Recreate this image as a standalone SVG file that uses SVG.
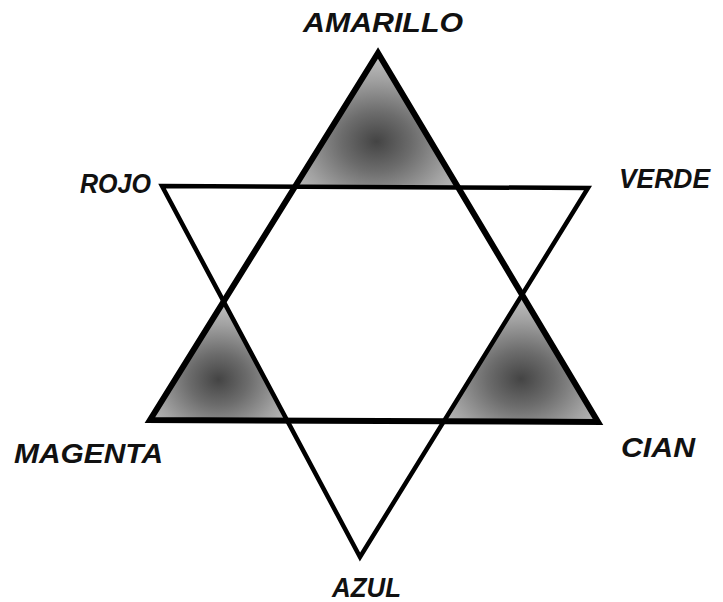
<svg xmlns="http://www.w3.org/2000/svg" width="723" height="602" viewBox="0 0 723 602">
  <style>
    .lbl { font-family: "Liberation Sans", Arial, sans-serif; font-style: italic; font-weight: bold; font-size: 27px; fill: #111; }
    .tri { fill: none; stroke: #000; stroke-linejoin: miter; stroke-miterlimit: 10; }
    .shade { fill: url(#halftone); stroke: none; }
  </style>
  <defs>
    <radialGradient id="halftone" cx="0.5" cy="0.66" r="0.62">
      <stop offset="0" stop-color="#444"/>
      <stop offset="0.35" stop-color="#6c6c6c"/>
      <stop offset="0.75" stop-color="#a2a2a2"/>
      <stop offset="1" stop-color="#bdbdbd"/>
    </radialGradient>
  </defs>
  <rect width="723" height="602" fill="#fff"/>
  <g id="shading">
    <polygon class="shade" points="378,53 295,186 458,187"/>
    <polygon class="shade" points="224,301 150,420 287,420"/>
    <polygon class="shade" points="522,295 598,422 444,421"/>
  </g>
  <g id="triangles">
    <polygon id="down-triangle" class="tri" stroke-width="4.5" points="162,186 588,188 360,557"/>
    <polygon id="up-triangle" class="tri" stroke-width="6" points="378,53 150,420 598,422"/>
  </g>
  <g id="labels">
    <g id="amarillo"><text class="lbl" x="303" y="32" textLength="160" lengthAdjust="spacingAndGlyphs">AMARILLO</text></g>
    <g id="rojo"><text class="lbl" x="80" y="193" textLength="71" lengthAdjust="spacingAndGlyphs">ROJO</text></g>
    <g id="verde"><text class="lbl" x="619" y="188" textLength="91" lengthAdjust="spacingAndGlyphs">VERDE</text></g>
    <g id="magenta"><text class="lbl" x="14" y="463" textLength="149" lengthAdjust="spacingAndGlyphs">MAGENTA</text></g>
    <g id="cian"><text class="lbl" x="621" y="457" textLength="74" lengthAdjust="spacingAndGlyphs">CIAN</text></g>
    <g id="azul"><text class="lbl" x="332" y="597" textLength="69" lengthAdjust="spacingAndGlyphs">AZUL</text></g>
  </g>
</svg>
